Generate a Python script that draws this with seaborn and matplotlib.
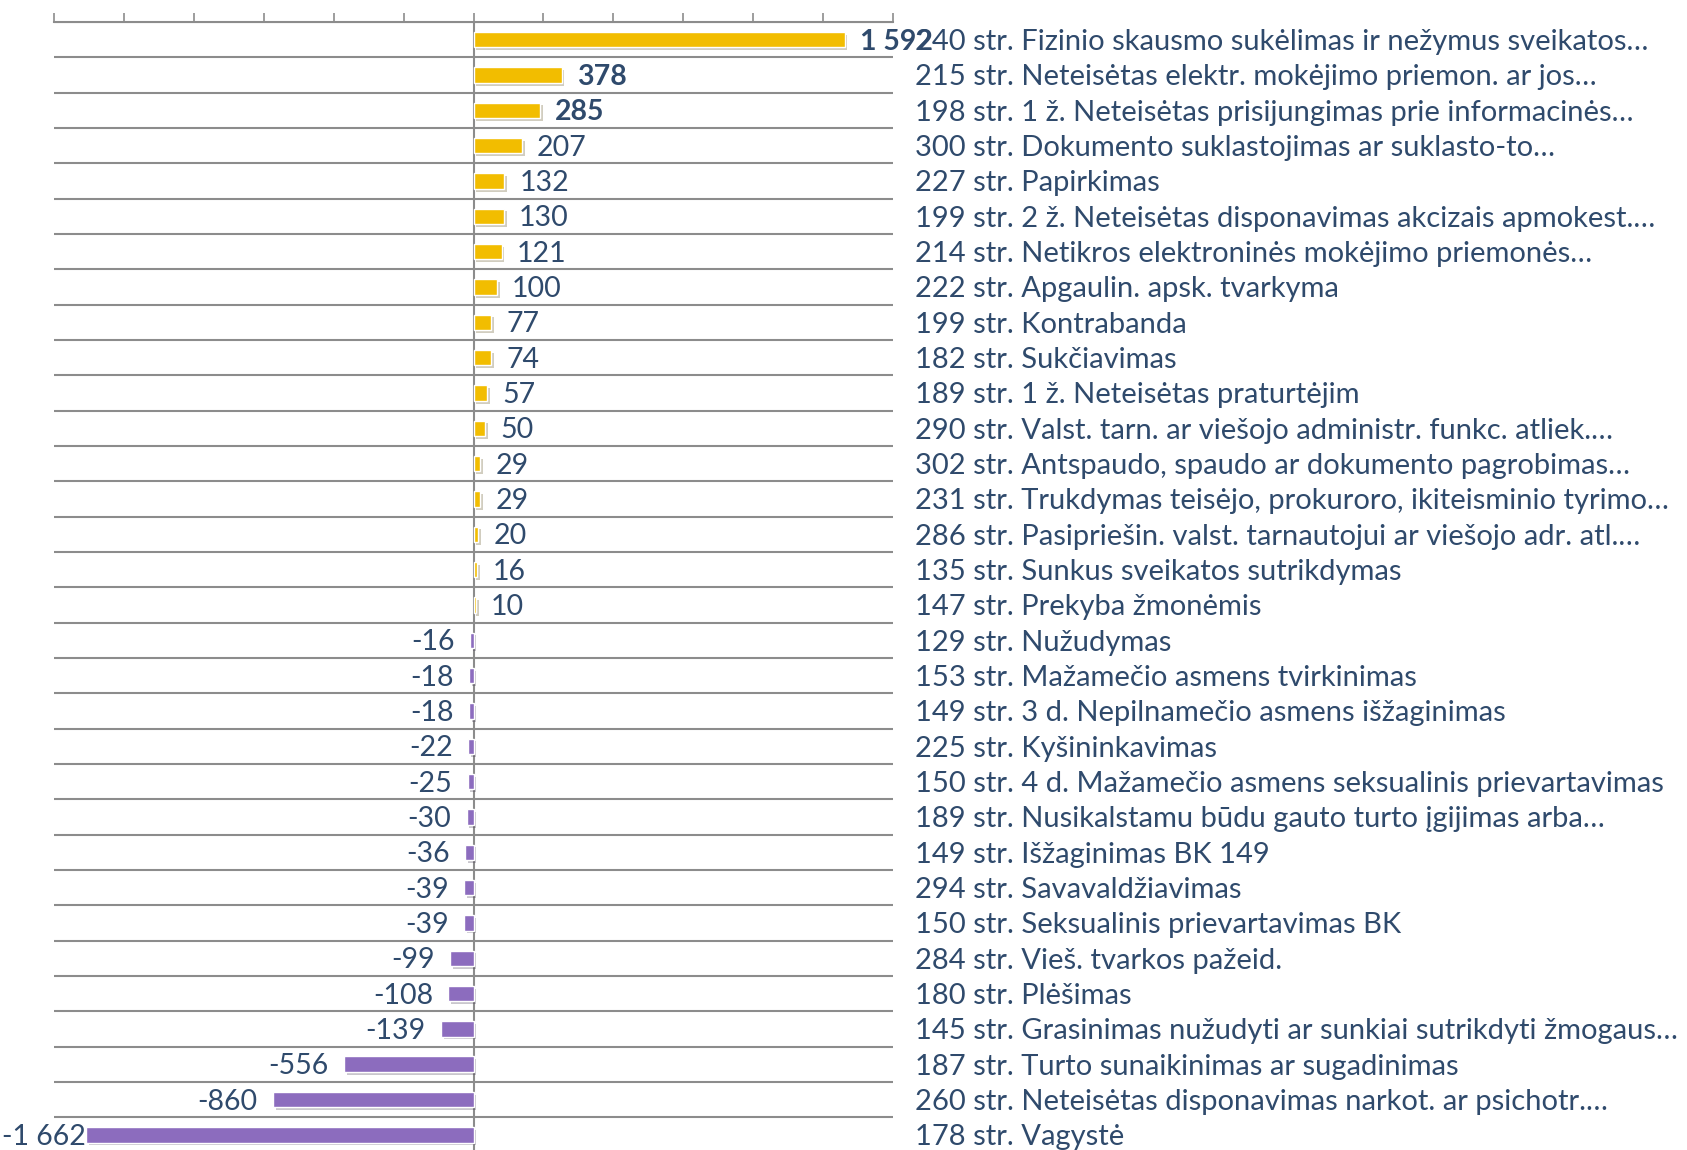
import numpy as np
import pandas as pd
import matplotlib
matplotlib.use("Agg")
import matplotlib.pyplot as plt
import matplotlib.patheffects as pe
import seaborn as sns

labels = [
    "240 str. Fizinio skausmo sukėlimas ir nežymus sveikatos…",
    "215 str. Neteisėtas elektr. mokėjimo priemon. ar jos…",
    "198 str. 1 ž. Neteisėtas prisijungimas prie informacinės…",
    "300 str. Dokumento suklastojimas ar suklasto-to…",
    "227 str. Papirkimas",
    "199 str. 2 ž. Neteisėtas disponavimas akcizais apmokest.…",
    "214 str. Netikros elektroninės mokėjimo priemonės…",
    "222 str. Apgaulin. apsk. tvarkyma",
    "199 str. Kontrabanda",
    "182 str. Sukčiavimas",
    "189 str. 1 ž. Neteisėtas praturtėjim",
    "290 str. Valst. tarn. ar viešojo administr. funkc. atliek.…",
    "302 str. Antspaudo, spaudo ar dokumento pagrobimas…",
    "231 str. Trukdymas teisėjo, prokuroro, ikiteisminio tyrimo…",
    "286 str. Pasipriešin. valst. tarnautojui ar viešojo adr. atl.…",
    "135 str. Sunkus sveikatos sutrikdymas",
    "147 str. Prekyba žmonėmis",
    "129 str. Nužudymas",
    "153 str. Mažamečio asmens tvirkinimas",
    "149 str. 3 d. Nepilnamečio asmens išžaginimas",
    "225 str. Kyšininkavimas",
    "150 str. 4 d. Mažamečio asmens seksualinis prievartavimas",
    "189 str. Nusikalstamu būdu gauto turto įgijimas arba…",
    "149 str. Išžaginimas BK 149",
    "294 str. Savavaldžiavimas",
    "150 str. Seksualinis prievartavimas BK",
    "284 str. Vieš. tvarkos pažeid.",
    "180 str. Plėšimas",
    "145 str. Grasinimas nužudyti ar sunkiai sutrikdyti žmogaus…",
    "187 str. Turto sunaikinimas ar sugadinimas",
    "260 str. Neteisėtas disponavimas narkot. ar psichotr.…",
    "178 str. Vagystė",
]
changes = [1592, 378, 285, 207, 132, 130, 121, 100, 77, 74, 57, 50, 29, 29, 20, 16, 10,
           -16, -18, -18, -22, -25, -30, -36, -39, -39, -99, -108, -139, -556, -860, -1662]

TEXT = "#2F4A6C"
GRID = "#8C8C8C"
GOLD = "#F2BD00"
PURPLE = "#8C6CBE"

sns.set_theme(style="white")
plt.rcParams["font.family"] = ["Lato", "DejaVu Sans"]

df = pd.DataFrame({"label": labels, "change": changes})
colors = [GOLD if v > 0 else PURPLE for v in changes]

fig = plt.figure(figsize=(16.87, 11.5), dpi=100)
ax = fig.add_axes([54 / 1687, -2.6 / 1150, (893 - 54) / 1687, 1130.6 / 1150])

sns.barplot(data=df, x="change", y="label", hue="label", palette=colors,
            legend=False, width=0.44, orient="h", ax=ax, saturation=1)

for p in ax.patches:
    p.set_path_effects([pe.SimplePatchShadow(offset=(2, -2), alpha=0.25), pe.Normal()])

ax.set_xlim(-1800, 1800)
ax.set_ylim(len(labels) - 0.5, -0.5)

# row separators
ax.set_yticks(np.arange(-0.5, len(labels)), minor=True)
ax.grid(which="minor", axis="y", color=GRID, lw=1.5)
ax.axvline(0, color=GRID, lw=1.5, zorder=0.5)

# top axis with tick marks only
ax.xaxis.tick_top()
ax.set_xticks(np.arange(-1800, 1801, 300))
ax.tick_params(axis="x", which="major", direction="out", length=6.5, width=1.2,
               color=GRID, labeltop=False, labelbottom=False)
ax.tick_params(axis="y", which="minor", length=0)
for s in ["bottom", "left", "right"]:
    ax.spines[s].set_visible(False)
ax.spines["top"].set_color(GRID)
ax.spines["top"].set_linewidth(1.5)

# category labels on the right
ax.yaxis.tick_right()
ax.tick_params(axis="y", which="major", length=0, pad=16, labelsize=21, labelcolor=TEXT)
ax.set_xlabel("")
ax.set_ylabel("")

for i, v in enumerate(changes):
    txt = f"{v:,}".replace(",", "\u00a0")
    off = 11 if v > 0 else -11
    if i == len(changes) - 1:
        off = 0
    ax.annotate(txt, xy=(v, i), xytext=(off, -1.5), textcoords="offset points",
                ha="left" if v > 0 else "right", va="center", fontsize=20.5, color=TEXT,
                fontweight="bold" if i < 3 else "normal", annotation_clip=False)

fig.savefig("out.png", dpi=100)
